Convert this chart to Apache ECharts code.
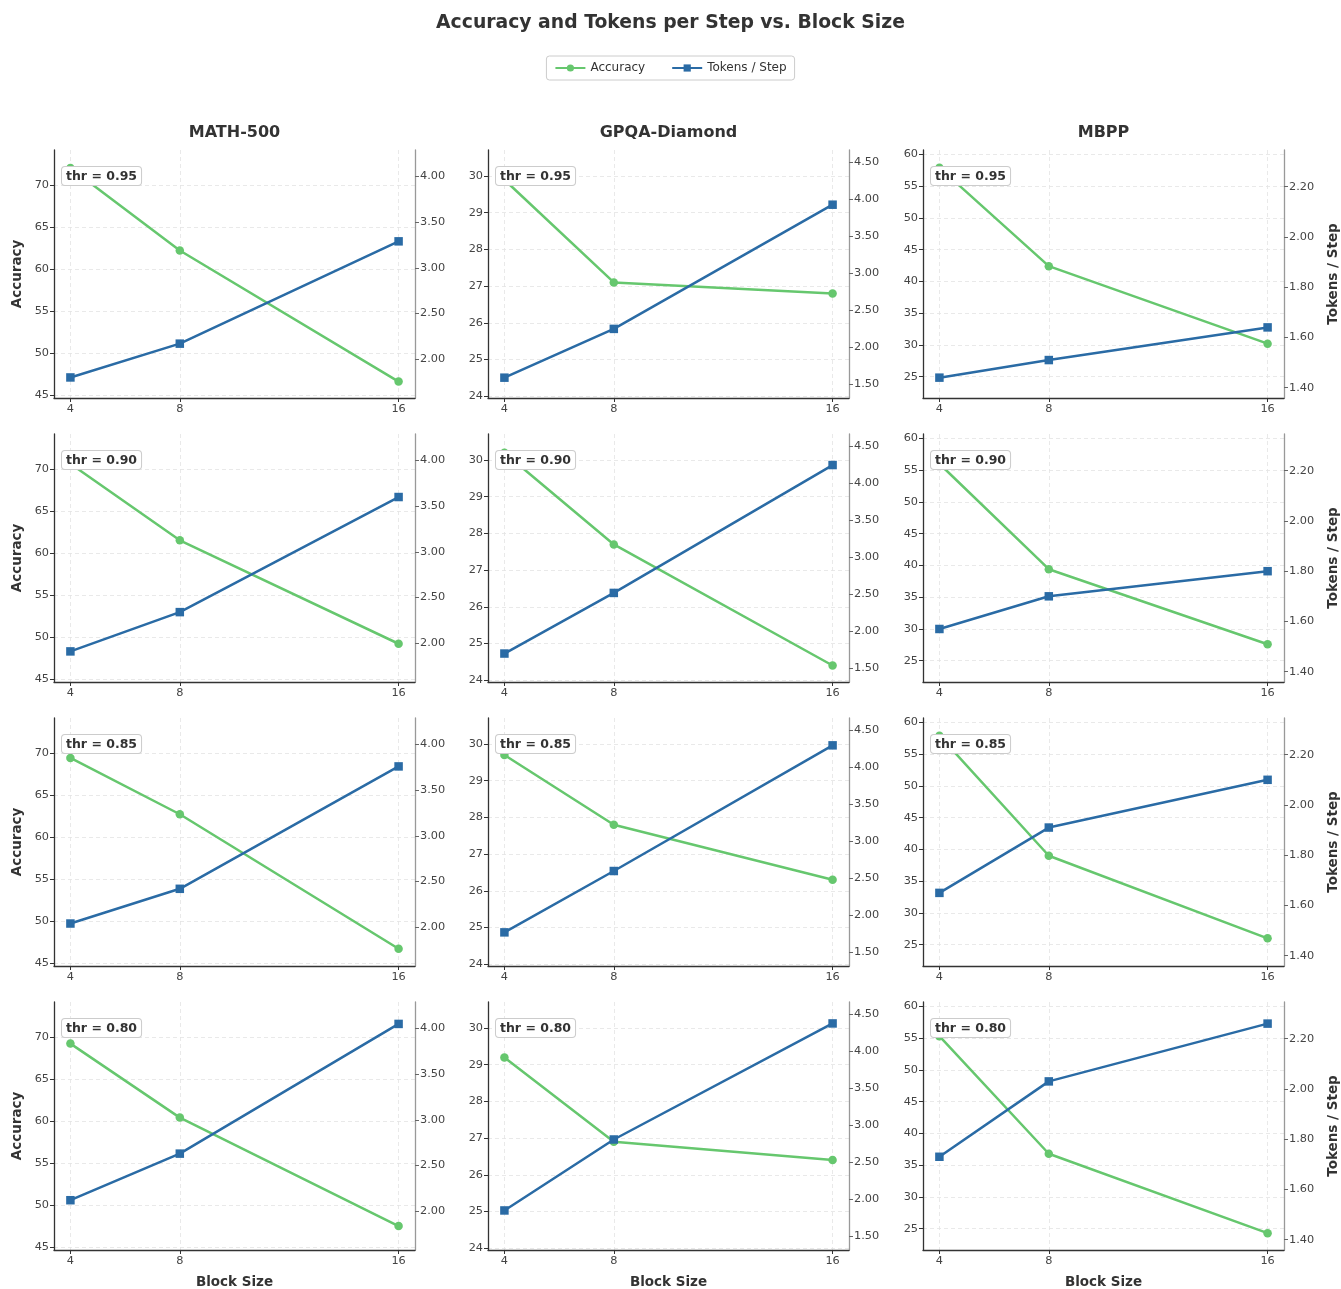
<!DOCTYPE html>
<html><head><meta charset="utf-8">
<script src="https://cdn.jsdelivr.net/npm/echarts@6/dist/echarts.min.js"></script>
<style>html,body{margin:0;padding:0;background:#fff}#c{width:1341px;height:1289px}</style>
</head><body><div id="c"></div><script>
const blockSizes = [4, 8, 16];
const thresholds = ['0.95', '0.90', '0.85', '0.80'];
const datasetNames = ['MATH-500', 'GPQA-Diamond', 'MBPP'];
// rows = thresholds, columns = block sizes
const accMath = [[72.0, 62.2, 46.6], [70.6, 61.5, 49.2], [69.4, 62.7, 46.7], [69.2, 60.4, 47.5]];
const tpsMath = [[1.80, 2.17, 3.29], [1.91, 2.34, 3.60], [2.04, 2.42, 3.76], [2.12, 2.63, 4.05]];
const accGpqa = [[29.9, 27.1, 26.8], [30.2, 27.7, 24.4], [29.7, 27.8, 26.3], [29.2, 26.9, 26.4]];
const tpsGpqa = [[1.59, 2.25, 3.93], [1.70, 2.52, 4.25], [1.77, 2.60, 4.30], [1.85, 2.81, 4.38]];
const accMbpp = [[57.9, 42.4, 30.2], [56.0, 39.4, 27.6], [57.9, 39.0, 26.0], [55.3, 36.8, 24.3]];
const tpsMbpp = [[1.44, 1.51, 1.64], [1.57, 1.70, 1.80], [1.65, 1.91, 2.10], [1.73, 2.03, 2.26]];
const accTicks = [[45, 50, 55, 60, 65, 70], [24, 25, 26, 27, 28, 29, 30], [25, 30, 35, 40, 45, 50, 55, 60]];
const tpsTicks = [[2.0, 2.5, 3.0, 3.5, 4.0], [1.5, 2.0, 2.5, 3.0, 3.5, 4.0, 4.5], [1.4, 1.6, 1.8, 2.0, 2.2]];
const accLimits = [[44.65, 74.15], [23.95, 30.71], [21.65, 60.68]];
const tpsLimits = [[1.575, 4.29], [1.315, 4.67], [1.359, 2.346]];
const xLimits = [3.4, 16.6];

const GREEN = '#66c76e', BLUE = '#2a6ba5';
const FONT = 'DejaVu Sans';
const colLeft = [54, 488, 923], gridW = 361;
const rowTop = [150, 434, 718, 1002], gridH = 248;

const accAll = [accMath, accGpqa, accMbpp];
const tpsAll = [tpsMath, tpsGpqa, tpsMbpp];

const grids = [], xAxes = [], yAxes = [], series = [], graphics = [];
const gridLine = { show: true, lineStyle: { type: [4, 3], color: '#e3e3e3', width: 0.8 } };

for (let r = 0; r < 4; r++) {
  for (let c = 0; c < 3; c++) {
    const idx = r * 3 + c;
    grids.push({ left: colLeft[c], top: rowTop[r], width: gridW, height: gridH, containLabel: false, outerBoundsMode: 'none' });
    xAxes.push({
      type: 'value', gridIndex: idx, min: xLimits[0], max: xLimits[1],
      name: r === 3 ? 'Block Size' : '', nameLocation: 'middle', nameGap: 25,
      nameTextStyle: { fontWeight: 'bold', fontSize: 13.5, color: '#333', fontFamily: FONT },
      axisLine: { show: true, onZero: false, lineStyle: { color: '#333', width: 1.3 } },
      axisTick: { show: true, customValues: blockSizes, length: 4, lineStyle: { color: '#333' } },
      axisLabel: { customValues: blockSizes, fontSize: 11.3, color: '#444', margin: 6, fontFamily: FONT },
      splitLine: gridLine
    });
    yAxes.push({
      type: 'value', gridIndex: idx, position: 'left', min: accLimits[c][0], max: accLimits[c][1],
      name: c === 0 ? 'Accuracy' : '', nameLocation: 'middle', nameGap: 30, nameRotate: 90,
      nameTextStyle: { fontWeight: 'bold', fontSize: 13.5, color: '#333', fontFamily: FONT },
      axisLine: { show: true, onZero: false, lineStyle: { color: '#333', width: 1.3 } },
      axisTick: { show: true, customValues: accTicks[c], length: 4, lineStyle: { color: '#333' } },
      axisLabel: { customValues: accTicks[c], fontSize: 11.3, color: '#444', margin: 5, fontFamily: FONT },
      splitLine: gridLine
    });
    yAxes.push({
      type: 'value', gridIndex: idx, position: 'right', min: tpsLimits[c][0], max: tpsLimits[c][1],
      name: c === 2 ? 'Tokens / Step' : '', nameLocation: 'middle', nameGap: 42, nameRotate: 90,
      nameTextStyle: { fontWeight: 'bold', fontSize: 13.5, color: '#333', fontFamily: FONT },
      axisLine: { show: true, onZero: false, lineStyle: { color: '#999', width: 1.3 } },
      axisTick: { show: true, customValues: tpsTicks[c], length: 4, lineStyle: { color: '#666' } },
      axisLabel: { customValues: tpsTicks[c], fontSize: 11.3, color: '#444', margin: 5, fontFamily: FONT,
        formatter: v => Number(v).toFixed(2) },
      splitLine: { show: false }
    });
    series.push({
      type: 'line', name: 'Accuracy', xAxisIndex: idx, yAxisIndex: 2 * idx,
      data: blockSizes.map((b, i) => [b, accAll[c][r][i]]),
      symbol: 'circle', symbolSize: 8.5, lineStyle: { width: 2.5, color: GREEN },
      itemStyle: { color: GREEN }, z: 3
    });
    series.push({
      type: 'line', name: 'Tokens / Step', xAxisIndex: idx, yAxisIndex: 2 * idx + 1,
      data: blockSizes.map((b, i) => [b, tpsAll[c][r][i]]),
      symbol: 'rect', symbolSize: 8.5, lineStyle: { width: 2.5, color: BLUE },
      itemStyle: { color: BLUE }, z: 4
    });
    graphics.push({
      type: 'text', x: colLeft[c] + 8, y: rowTop[r] + 17, z: 100,
      style: {
        text: 'thr = ' + thresholds[r], fontSize: 12.5, fontWeight: 'bold', fontFamily: FONT, fill: '#333',
        align: 'left', verticalAlign: 'top',
        backgroundColor: '#fff', borderColor: '#ccc', borderWidth: 1, borderRadius: 3, padding: [3, 4, 2, 4]
      }
    });
  }
}
for (let c = 0; c < 3; c++) {
  graphics.push({
    type: 'text', x: colLeft[c] + gridW / 2, y: 133, z: 100,
    style: { text: datasetNames[c], fontSize: 16, fontWeight: 'bold', fontFamily: FONT, fill: '#333',
      align: 'center', verticalAlign: 'middle' }
  });
}

const chart = echarts.init(document.getElementById('c'), null, { renderer: 'canvas' });
chart.setOption({
  animation: false,
  backgroundColor: '#fff',
  textStyle: { fontFamily: FONT },
  title: {
    text: 'Accuracy and Tokens per Step vs. Block Size', left: 'center', top: 9,
    textStyle: { fontSize: 18.8, fontWeight: 'bold', color: '#333', fontFamily: FONT }
  },
  legend: {
    data: ['Accuracy', 'Tokens / Step'], top: 56, left: 'center',
    borderColor: '#ccc', borderWidth: 1, borderRadius: 3, padding: [6, 8],
    itemGap: 26, itemWidth: 30, itemHeight: 9,
    textStyle: { fontSize: 12, color: '#333', fontFamily: FONT }
  },
  grid: grids, xAxis: xAxes, yAxis: yAxes, series: series, graphic: graphics
});
</script></body></html>
